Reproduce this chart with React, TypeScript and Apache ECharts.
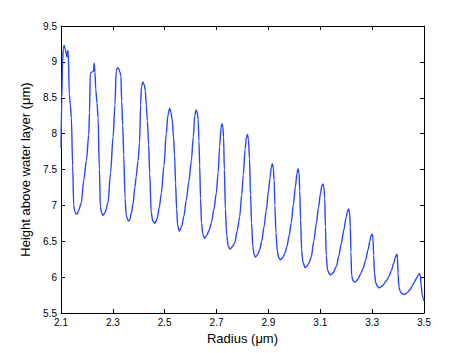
import React, { useEffect, useRef } from "react";
import * as echarts from "echarts";

const radius: number[] = [
  2.100, 2.103, 2.106, 2.109, 2.112, 2.116, 2.121, 2.123, 2.126, 2.128, 2.132, 2.136, 2.140, 2.145, 2.149, 2.153, 2.158, 2.163, 2.168,
  2.178, 2.188, 2.198, 2.207, 2.210, 2.213, 2.220, 2.225, 2.228, 2.231, 2.234, 2.239, 2.243, 2.248, 2.252, 2.256, 2.262,
  2.270, 2.281, 2.291, 2.301, 2.308, 2.313, 2.318, 2.322, 2.327, 2.331, 2.334, 2.338, 2.342, 2.347, 2.352, 2.360,
  2.365, 2.372, 2.378, 2.385, 2.390, 2.397, 2.403, 2.407, 2.410, 2.416, 2.421, 2.425, 2.429, 2.433, 2.438, 2.442, 2.448, 2.454, 2.463,
  2.471, 2.479, 2.487, 2.497, 2.506, 2.512, 2.519, 2.524, 2.529, 2.534, 2.538, 2.542, 2.546, 2.550, 2.556,
  2.565, 2.574, 2.583, 2.593, 2.603, 2.610, 2.616, 2.621, 2.625, 2.629, 2.632, 2.635, 2.638, 2.642, 2.647, 2.654,
  2.662, 2.671, 2.680, 2.690, 2.699, 2.706, 2.712, 2.717, 2.721, 2.724, 2.727, 2.730, 2.734, 2.739, 2.745, 2.752,
  2.760, 2.770, 2.780, 2.789, 2.797, 2.803, 2.810, 2.815, 2.819, 2.823, 2.827, 2.831, 2.835, 2.840, 2.845, 2.850,
  2.858, 2.866, 2.874, 2.883, 2.892, 2.900, 2.906, 2.911, 2.915, 2.919, 2.922, 2.925, 2.929, 2.934, 2.940, 2.946,
  2.955, 2.963, 2.971, 2.980, 2.988, 2.996, 3.004, 3.010, 3.014, 3.018, 3.021, 3.024, 3.028, 3.033, 3.042,
  3.050, 3.058, 3.065, 3.075, 3.085, 3.093, 3.101, 3.106, 3.110, 3.114, 3.117, 3.120, 3.123, 3.128, 3.134, 3.140,
  3.150, 3.162, 3.172, 3.181, 3.191, 3.200, 3.205, 3.209, 3.213, 3.216, 3.218, 3.221, 3.226, 3.235,
  3.245, 3.255, 3.265, 3.275, 3.284, 3.291, 3.296, 3.300, 3.303, 3.306, 3.309, 3.314, 3.321, 3.328,
  3.340, 3.355, 3.365, 3.374, 3.383, 3.389, 3.393, 3.396, 3.398, 3.400, 3.403, 3.408, 3.415, 3.425,
  3.435, 3.445, 3.455, 3.464, 3.472, 3.478, 3.482, 3.486, 3.489, 3.493, 3.497, 3.500,
];

const height: number[] = [
  7.80, 8.50, 9.00, 9.18, 9.23, 9.18, 9.10, 9.07, 9.16, 9.12, 8.55, 8.40, 8.22, 7.55, 7.00, 6.92, 6.88, 6.88, 6.93,
  7.03, 7.35, 7.63, 7.98, 8.30, 8.84, 8.86, 8.87, 8.98, 8.86, 8.62, 8.42, 8.22, 7.50, 6.98, 6.90, 6.86,
  6.90, 7.03, 7.45, 7.96, 8.40, 8.88, 8.92, 8.91, 8.86, 8.80, 8.45, 8.12, 7.70, 7.10, 6.85, 6.78,
  6.80, 6.90, 7.03, 7.25, 7.40, 7.62, 7.87, 8.40, 8.65, 8.72, 8.68, 8.60, 8.40, 8.18, 7.85, 7.45, 6.90, 6.78, 6.75,
  6.82, 6.97, 7.17, 7.55, 8.00, 8.25, 8.35, 8.30, 8.19, 7.95, 7.70, 7.30, 6.95, 6.72, 6.64,
  6.70, 6.85, 7.07, 7.33, 7.63, 7.95, 8.25, 8.33, 8.30, 8.20, 7.90, 7.55, 7.10, 6.75, 6.60, 6.54,
  6.58, 6.65, 6.76, 6.95, 7.17, 7.45, 7.82, 8.08, 8.14, 8.10, 7.95, 7.50, 6.95, 6.58, 6.43, 6.39,
  6.42, 6.48, 6.65, 6.84, 7.15, 7.42, 7.78, 7.95, 7.99, 7.92, 7.65, 7.15, 6.75, 6.42, 6.31, 6.28,
  6.31, 6.38, 6.50, 6.70, 6.94, 7.20, 7.38, 7.53, 7.58, 7.52, 7.35, 7.00, 6.62, 6.36, 6.27, 6.24,
  6.27, 6.33, 6.42, 6.58, 6.76, 7.00, 7.26, 7.44, 7.51, 7.46, 7.20, 6.80, 6.38, 6.20, 6.13,
  6.16, 6.21, 6.28, 6.50, 6.75, 6.97, 7.17, 7.27, 7.30, 7.25, 7.10, 6.70, 6.30, 6.10, 6.05, 6.03,
  6.06, 6.15, 6.30, 6.47, 6.66, 6.84, 6.92, 6.95, 6.90, 6.70, 6.35, 6.02, 5.95, 5.93,
  5.97, 6.04, 6.12, 6.24, 6.38, 6.50, 6.58, 6.60, 6.55, 6.30, 6.05, 5.92, 5.87, 5.85,
  5.88, 5.95, 6.01, 6.09, 6.19, 6.27, 6.31, 6.32, 6.26, 6.05, 5.87, 5.80, 5.77, 5.76,
  5.78, 5.82, 5.88, 5.94, 5.99, 6.03, 6.05, 6.02, 5.88, 5.76, 5.70, 5.67,
];

const X_MIN = 2.1;
const X_MAX = 3.5;
const X_STEP = 0.2;
const Y_MIN = 5.5;
const Y_MAX = 9.5;
const Y_STEP = 0.5;

const X_NAME = "Radius (μm)";
const Y_NAME = "Height above water layer (μm)";

const FONT = "'Liberation Sans', Arial, Helvetica, sans-serif";

export default function App() {
  const ref = useRef<HTMLDivElement>(null);

  useEffect(() => {
    document.body.style.margin = "0";
    if (!ref.current) return;
    const chart = echarts.init(ref.current, undefined, { renderer: "svg" });

    const axisLine = { show: true, lineStyle: { color: "#000", width: 1 } };
    const tick = { show: true, inside: true, length: 4, lineStyle: { color: "#000", width: 1 } };

    const data = radius.map((r, i) => [r, height[i]]);

    chart.setOption({
      animation: false,
      backgroundColor: "#fff",
      textStyle: { fontFamily: FONT },
      grid: { left: 61, right: 45, top: 26, bottom: 40, containLabel: false },
      xAxis: [
        {
          type: "value",
          position: "bottom",
          min: X_MIN,
          max: X_MAX,
          interval: X_STEP,
          axisLine,
          axisTick: tick,
          splitLine: { show: false },
          axisLabel: {
            color: "#000",
            fontSize: 10,
            fontFamily: FONT,
            margin: 4,
            formatter: (v: number) => String(Math.round(v * 10) / 10),
          },
          name: X_NAME,
          nameLocation: "middle",
          nameGap: 17,
          nameTextStyle: { color: "#000", fontSize: 13, fontFamily: FONT },
        },
        {
          type: "value",
          position: "top",
          min: X_MIN,
          max: X_MAX,
          interval: X_STEP,
          axisLine,
          axisTick: tick,
          splitLine: { show: false },
          axisLabel: { show: false },
        },
      ],
      yAxis: [
        {
          type: "value",
          position: "left",
          min: Y_MIN,
          max: Y_MAX,
          interval: Y_STEP,
          axisLine,
          axisTick: tick,
          splitLine: { show: false },
          axisLabel: {
            color: "#000",
            fontSize: 10,
            fontFamily: FONT,
            margin: 4,
            formatter: (v: number) => String(Math.round(v * 10) / 10),
          },
          name: Y_NAME,
          nameLocation: "middle",
          nameGap: 24,
          nameRotate: 90,
          nameTextStyle: { color: "#000", fontSize: 13, fontFamily: FONT },
        },
        {
          type: "value",
          position: "right",
          min: Y_MIN,
          max: Y_MAX,
          interval: Y_STEP,
          axisLine,
          axisTick: tick,
          splitLine: { show: false },
          axisLabel: { show: false },
        },
      ],
      series: [
        {
          type: "line",
          xAxisIndex: 0,
          yAxisIndex: 0,
          data,
          showSymbol: false,
          symbol: "none",
          smooth: 0.3,
          smoothMonotone: "x",
          lineStyle: { color: "#2846ff", width: 1.4 },
          clip: true,
        },
      ],
    });

    return () => chart.dispose();
  }, []);

  return <div ref={ref} style={{ width: 469, height: 353 }} />;
}
